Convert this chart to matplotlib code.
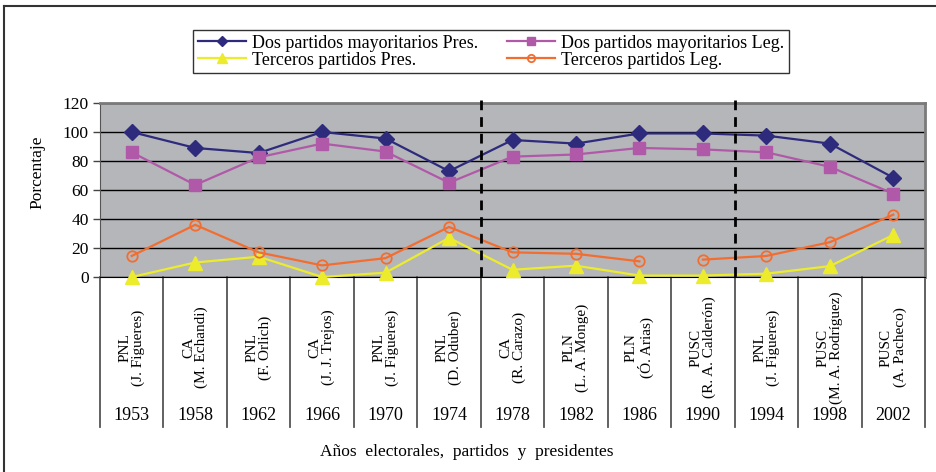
import matplotlib
matplotlib.use("Agg")
import matplotlib.pyplot as plt
from matplotlib.lines import Line2D
import numpy as np

plt.rcParams['font.family'] = ['Liberation Serif', 'DejaVu Serif']

years = ["1953", "1958", "1962", "1966", "1970", "1974", "1978",
         "1982", "1986", "1990", "1994", "1998", "2002"]
parties = ["PNL\n(J. Figueres)", "CA\n(M. Echandi)", "PNL\n(F. Orlich)",
           "CA\n(J. J. Trejos)", "PNL\n(J. Figueres)", "PNL\n(D. Oduber)",
           "CA\n(R. Carazo)", "PLN\n(L. A. Monge)", "PLN\n(Ó. Arias)",
           "PUSC\n(R. A. Calderón)", "PNL\n(J. Figueres)",
           "PUSC\n(M. A. Rodríguez)", "PUSC\n(A. Pacheco)"]

dos_pres = [100, 89, 85.5, 100, 95.5, 73, 94.5, 92, 99, 99, 97.5, 92, 68.5]
dos_leg = [86, 63.5, 82.5, 92, 86.5, 65, 83, 84.5, 89, 88, 86, 76, 57.5]
ter_pres = [0, 10, 14, 0, 3, 27, 5, 7.8, 1, 1, 2.3, 7.5, 29]
ter_leg = [14.5, 36, 17, 8, 13, 34.5, 17, 16, 10.8, 12, 14.5, 24, 43]

c_navy = '#2E2B7C'
c_mag = '#B059A8'
c_yel = '#ECEC2C'
c_ora = '#F26E30'

fig = plt.figure(figsize=(9.36, 4.72), dpi=100)
W, H = 936, 472
ax = fig.add_axes([100 / W, (H - 277) / H, 825 / W, 174 / H])
ax.set_facecolor('#B5B6BA')

x = np.arange(len(years))
h1, = ax.plot(x, dos_pres, color=c_navy, lw=1.6, marker='D', ms=8,
              mfc=c_navy, mec=c_navy, label='Dos partidos mayoritarios Pres.', zorder=5)
h2, = ax.plot(x, dos_leg, color=c_mag, lw=1.6, marker='s', ms=8.5,
              mfc=c_mag, mec=c_mag, label='Dos partidos mayoritarios Leg.', zorder=5)
h3, = ax.plot(x, ter_pres, color=c_yel, lw=1.6, marker='^', ms=9.5,
              mfc=c_yel, mec=c_yel, label='Terceros partidos Pres.', zorder=5,
              clip_on=False)
h4, = ax.plot(x[:9], ter_leg[:9], color=c_ora, lw=1.6, marker='o', ms=7.5,
              mfc='none', mec=c_ora, mew=1.3, label='Terceros partidos Leg.', zorder=5)
ax.plot(x[9:], ter_leg[9:], color=c_ora, lw=1.6, marker='o', ms=7.5,
        mfc='none', mec=c_ora, mew=1.3, zorder=5)

ax.set_xlim(-0.5, len(years) - 0.5)
ax.set_ylim(0, 120)
ax.set_yticks(range(0, 121, 20))
ax.set_yticklabels([str(v) for v in range(0, 121, 20)], fontsize=12.5)
ax.yaxis.grid(True, color='black', lw=1)
ax.set_axisbelow(True)
ax.tick_params(axis='y', length=5, width=1, color='#444444', pad=3)
ax.set_xticks([])
for s in ['top', 'right']:
    ax.spines[s].set_color('#7A7A7A')
    ax.spines[s].set_linewidth(2)
ax.spines['left'].set_color('#555555')
ax.spines['bottom'].set_color('black')

tr = ax.get_xaxis_transform()
for k in range(len(years) + 1):
    ax.plot([k - 0.5, k - 0.5], [0, -0.86], transform=tr, color='#555555',
            lw=1.3, clip_on=False)
for i in range(len(years)):
    ax.text(i, -0.405, parties[i], transform=tr, rotation=90, ha='center',
            va='center', fontsize=11, multialignment='center', linespacing=1.0)
    ax.text(i, -0.795, years[i], transform=tr, ha='center', va='center',
            fontsize=13)

for xv in [5.5, 9.5]:
    ax.plot([xv, xv], [122, -4], color='black', lw=2, ls=(0, (3.5, 2.5)),
            clip_on=False, zorder=6)

fig.text(467 / W, 1 - 452 / H, 'Años  electorales,  partidos  y  presidentes',
         ha='center', va='center', fontsize=12.5)
fig.text(37 / W, 1 - 172 / H, 'Porcentaje', rotation=90, ha='center',
         va='center', fontsize=12.5)

leg = fig.legend(handles=[h1, h3, h2, h4],
                 loc='upper left', bbox_to_anchor=(193 / W, 1 - 30 / H),
                 ncol=2, frameon=True, fancybox=False, fontsize=13,
                 handlelength=2.7, borderpad=0.25, labelspacing=0.0,
                 columnspacing=1.6, handletextpad=0.3, borderaxespad=0,
                 markerscale=0.7)
leg.get_frame().set_edgecolor('black')
leg.get_frame().set_linewidth(1)

fig.add_artist(Line2D([4 / W, 1.0], [1 - 6 / H, 1 - 6 / H],
                      transform=fig.transFigure, color='#333333', lw=1.5))
fig.add_artist(Line2D([4 / W, 4 / W], [1 - 6 / H, 0],
                      transform=fig.transFigure, color='#333333', lw=1.5))

fig.savefig('out.png', dpi=100)
